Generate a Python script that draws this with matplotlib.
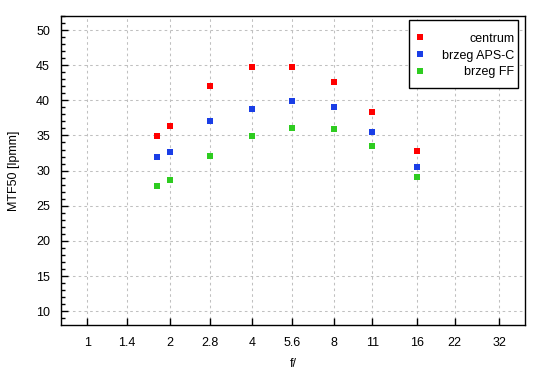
import numpy as np
import matplotlib
matplotlib.use('Agg')
import matplotlib.pyplot as plt
from matplotlib.patches import Rectangle
from matplotlib.transforms import IdentityTransform
from matplotlib.ticker import FixedLocator, MultipleLocator, NullLocator

plt.rcParams['font.family'] = ['Liberation Sans', 'DejaVu Sans']
plt.rcParams['font.size'] = 9

#### DATA
f_numbers = [1.8, 2, 2.8, 4, 5.6, 8, 11, 16]
centrum = [34.9, 36.3, 42.1, 44.7, 44.7, 42.6, 38.3, 32.8]
brzeg_apsc = [31.9, 32.6, 37.0, 38.7, 39.9, 39.0, 35.5, 30.5]
brzeg_ff = [27.8, 28.6, 32.1, 34.9, 36.0, 35.9, 33.5, 29.1]
series_labels = ['centrum', 'brzeg APS-C', 'brzeg FF']
series_colors = ['#ff0000', '#1a3ee6', '#2ecc20']
x_ticks = [1, 1.4, 2, 2.8, 4, 5.6, 8, 11, 16, 22, 32]
x_ticklabels = ['1', '1.4', '2', '2.8', '4', '5.6', '8', '11', '16', '22', '32']

W, H = 550, 380
fig = plt.figure(figsize=(W / 100, H / 100), dpi=100)
ax = fig.add_axes([0.111, 0.145, 0.8435, 0.813])

for vals, lab, col in zip([centrum, brzeg_apsc, brzeg_ff], series_labels, series_colors):
    ax.plot(f_numbers, vals, linestyle='none', marker='s', markersize=5,
            color=col, markeredgewidth=0, label=lab)

ax.set_xscale('log', base=2)
ax.set_xlim(0.803, 39.8)
ax.set_ylim(8.05, 52)
ax.xaxis.set_major_locator(FixedLocator(x_ticks))
ax.xaxis.set_minor_locator(NullLocator())
ax.set_xticklabels(x_ticklabels)
ax.yaxis.set_major_locator(MultipleLocator(5))
ax.yaxis.set_minor_locator(MultipleLocator(1))

ax.tick_params(axis='both', which='both', direction='in', top=False, right=False, colors='black')
ax.tick_params(axis='x', which='major', length=5, width=1, pad=9)
ax.tick_params(axis='y', which='major', length=5, width=1, pad=8)
ax.tick_params(axis='y', which='minor', length=3, width=1)
for s in ax.spines.values():
    s.set_linewidth(1)

ax.grid(True, which='major', color='#c0c0c0', linestyle=(0, (2.5, 3)), linewidth=0.75)
ax.set_axisbelow(True)

ax.set_xlabel('f/', labelpad=6.5)
ax.set_ylabel('MTF50 [lpmm]', labelpad=11.5)

# legend: frame drawn separately so vertical padding can differ from horizontal
frame_right, frame_top, frame_h = 518, 20, 68
shift = 1.5  # rows sit a bit lower than centre of the frame
leg = ax.legend(loc='upper right', frameon=False, borderpad=0.3, labelspacing=0.4,
                handlelength=1.16, handletextpad=1.2, borderaxespad=0,
                bbox_to_anchor=(frame_right / W, 1 - frame_top / H),
                bbox_transform=fig.transFigure)
leg.set_zorder(5)

# right-align legend texts
fig.canvas.draw()
renderer = fig.canvas.get_renderer()
widths = [t.get_window_extent(renderer).width for t in leg.get_texts()]
rows = leg._legend_handle_box.get_children()[0].get_children()
base_sep = rows[0].sep
for row, w in zip(rows, widths):
    row.sep = base_sep + (max(widths) - w) * 72 / fig.dpi

fig.canvas.draw()
bb = leg.get_window_extent(renderer)
dy = (frame_h - bb.height) / 2
leg.set_bbox_to_anchor((frame_right / W, 1 - (frame_top + dy + shift) / H),
                       transform=fig.transFigure)
fig.canvas.draw()
bb = leg.get_window_extent(renderer)
frame = Rectangle((bb.x0, bb.y0 - dy + shift), bb.width, bb.height + 2 * dy,
                  transform=IdentityTransform(), facecolor='white', edgecolor='black',
                  linewidth=1, zorder=4.5)
ax.add_artist(frame)

fig.savefig('out.png', dpi=100)
